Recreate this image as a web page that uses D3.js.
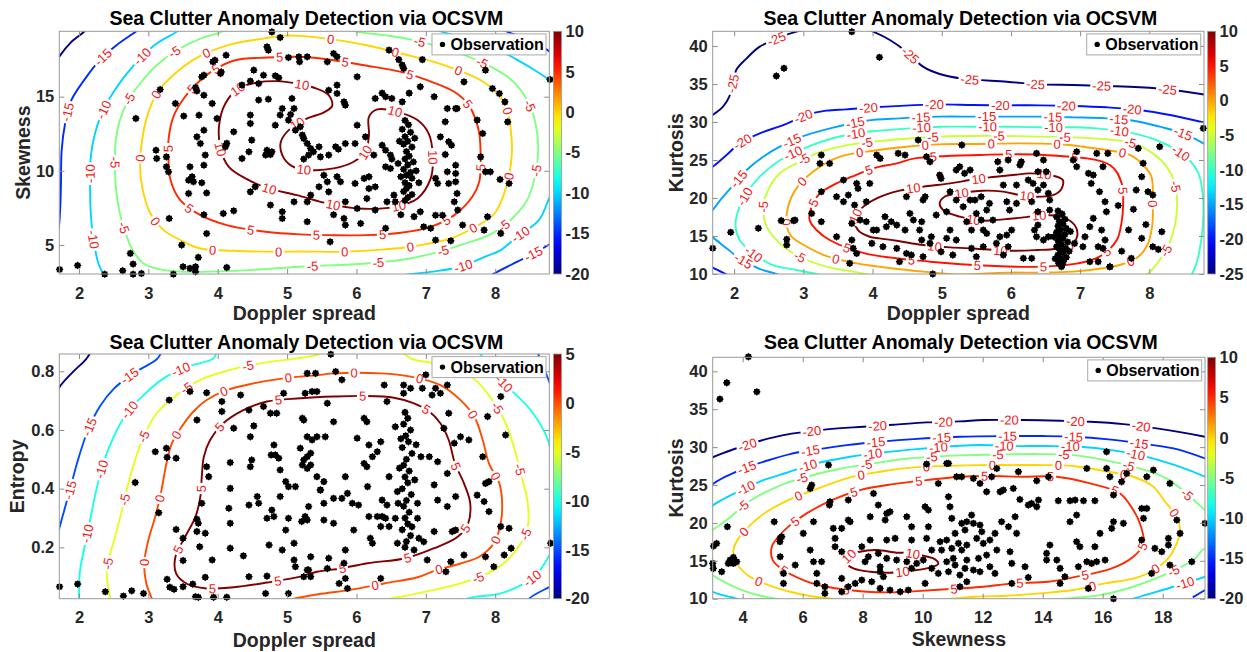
<!DOCTYPE html>
<html><head><meta charset="utf-8">
<script src="https://cdn.jsdelivr.net/npm/d3@7"></script>
<style>body{margin:0;background:#fff}svg{display:block}</style>
</head><body>
<script>
// ---------------- DATA ----------------
const titleText = 'Sea Clutter Anomaly Detection via OCSVM';
const dopplerTicks = [2,3,4,5,6,7,8];
const skewnessYTicks = [5,10,15];
const kurtosisTicks = [10,15,20,25,30,35,40];
const entropyTicks = [0.2,0.4,0.6,0.8];
const skewnessXTicks = [4,6,8,10,12,14,16,18];
const cbTicks1 = [10,5,0,-5,-10,-15,-20];
const cbTicks2 = [10,5,0,-5,-10,-15,-20,-25];
const cbTicks3 = [5,0,-5,-10,-15,-20];
const cbTicks4 = [10,5,0,-5,-10,-15,-20];

// Panel 1: Doppler spread vs Skewness
const p1Points = [[1.72,3.35],[1.98,3.62],[2.37,3.03],[2.63,3.26],[2.78,3.71],[2.74,4.43],[2.78,3.03],[2.90,3.08],[3.36,3.03],[3.50,3.53],[3.60,3.42],[3.68,3.53],[3.68,3.19],[3.72,4.16],[3.48,4.99],[3.84,5.77],[3.30,6.79],[4.13,3.48],[2.82,13.53],[3.11,11.39],[3.12,10.83],[3.26,10.94],[3.26,10.27],[3.29,9.93],[3.17,15.48],[3.39,14.54],[3.51,13.69],[3.73,13.75],[3.70,12.29],[3.80,12.74],[3.75,11.84],[3.60,10.27],[3.63,9.60],[3.58,9.37],[3.65,9.26],[3.58,8.47],[3.80,10.38],[3.82,11.06],[3.84,8.51],[3.77,9.19],[3.68,15.62],[3.70,15.39],[3.80,15.10],[3.77,16.34],[3.80,16.45],[3.92,14.54],[3.93,17.35],[3.96,17.46],[4.05,16.67],[4.12,17.80],[4.71,18.36],[4.73,18.14],[4.78,19.37],[4.90,18.99],[5.02,17.64],[5.18,17.35],[4.08,7.12],[4.23,7.30],
[4.04,16.56],[3.99,13.53],[4.23,12.63],[4.13,11.85],[4.11,11.62],[4.35,10.83],[4.49,12.07],[4.47,13.76],[4.47,13.19],[4.59,14.77],[4.73,14.83],[4.52,16.79],[4.66,16.45],[4.83,16.41],[4.88,16.27],[4.47,16.05],[4.59,15.89],[4.35,15.78],[4.93,14.20],[5.10,14.20],[5.07,14.88],[4.83,13.08],[5.19,12.97],[5.22,12.41],[5.24,12.18],[5.29,11.84],[5.34,11.51],[5.38,11.28],[5.46,11.62],[5.31,11.06],[5.24,10.79],[5.48,10.94],[5.60,11.06],[5.70,11.62],[5.74,11.46],[5.84,11.84],[5.98,11.84],[6.13,12.29],[6.01,13.08],[6.27,14.88],[6.37,15.24],[6.42,14.99],[6.51,14.88],[6.66,17.13],[6.68,16.90],[6.66,14.65],[6.76,15.24],[6.92,15.67],[7.12,15.0],[7.31,14.20],[7.45,14.20],[7.28,13.31],[7.21,12.29],[7.33,11.96],[7.37,11.73],[7.28,11.10],[7.43,10.38],[7.31,9.93],[7.14,9.49],[7.17,9.15],[7.33,9.15],[7.45,8.47],[7.41,7.91],[4.71,11.39],[4.69,11.06],[4.76,11.10],[4.78,11.28],[4.45,11.28],[4.54,8.92],[4.47,8.58],[4.76,7.69],[4.93,7.24],[5.10,7.91],[5.29,7.91],[5.34,8.36],[5.60,8.58],[5.46,8.92],[5.53,9.70],[5.58,9.26],[5.72,9.60],[5.77,9.26],[5.98,9.15],[6.11,9.49],[6.18,8.80],[6.27,8.92],[6.15,8.13],[6.18,9.60],[5.84,7.91],[6.01,7.46],[6.27,7.35],[6.44,7.91],[6.54,8.36],[6.56,7.91],[6.64,7.04],[6.83,6.91],[6.92,7.24],[7.07,6.12],[7.14,7.0],[7.24,7.0],[3.80,7.04],[4.93,6.79],[5.29,6.57],[5.67,7.04],[5.82,6.79],[5.84,6.34],[6.06,6.45],[6.42,6.12],[4.90,13.76],[5.05,13.80],[5.02,13.42],[5.12,12.74],[5.60,15.44],[5.72,15.22],[5.84,14.43],[5.72,15.78],[5.82,14.65],[5.58,17.35],[5.29,17.69],[5.17,17.69],[5.72,17.69],[6.01,16.34],[6.25,11.06],[6.37,11.73],[6.42,11.39],[6.49,11.06],[6.51,10.79],[6.49,10.16],[6.42,10.27],
[6.70,13.4],[6.75,13.1],[6.66,12.8],[6.78,12.6],[6.70,12.3],[6.74,12.0],[6.68,11.8],[6.80,11.6],[6.72,11.3],[6.76,11.0],[6.70,10.8],[6.82,10.6],[6.74,10.4],[6.68,10.1],[6.78,9.9],[6.72,9.7],[6.80,9.5],[6.70,9.2],[6.76,9.0],[6.72,8.8],[6.68,8.6],[6.80,8.4],[6.74,8.2],[6.70,8.0],[6.62,12.0],[6.86,10.0],[6.64,9.6],[6.84,12.2],[6.60,10.5],[6.90,9.2],
[5.67,17.91],[6.47,18.14],[6.61,17.50],[6.95,17.50],[7.86,16.79],[7.96,15.55],[8.06,15.21],[8.14,14.65],[8.18,13.30],[7.55,16.00],[7.43,14.20],[7.74,13.42],[7.82,12.52],[7.79,10.94],[7.86,9.93],[7.93,9.93],[8.07,9.42],[8.20,9.15],[7.43,9.82],[7.43,9.26],[7.46,7.35],[7.53,6.34],[7.89,6.90],[7.84,6.0],[8.08,5.78],[7.14,5.33],[7.36,5.28],[8.79,16.16],[6.97,6.22],[5.62,5.21]];

const p1Contours = [
 {level:-20, closed:false, pts:[[1.68,17.4],[1.72,17.73],[1.88,18.65],[2.08,19.41],[2.13,19.7]]},
 {level:-15, closed:false, pts:[[2.9,19.7],[2.82,19.39],[2.54,18.47],[2.30,17.46],[2.09,16.22],[1.89,14.76],[1.80,13.19],[1.75,11.39],[1.74,9.15],[1.73,7.57],[1.71,6.22],[1.69,5.8]]},
 {level:-15, closed:false, pts:[[7.9,2.8],[7.97,3.03],[8.32,3.87],[8.56,4.43],[8.8,5.1],[8.85,5.3]]},
 {level:-15, closed:false, pts:[[8.1,19.6],[8.18,19.37],[8.51,18.81],[8.8,18.0]]},
 {level:-10, closed:false, pts:[[3.45,19.6],[3.41,19.39],[3.12,18.58],[2.88,17.57],[2.69,16.56],[2.50,15.33],[2.33,13.87],[2.23,12.52],[2.17,10.94],[2.16,8.92],[2.17,7.12],[2.21,5.33],[2.28,3.75],[2.35,3.03],[2.38,2.8]]},
 {level:-10, closed:false, pts:[[7.1,19.6],[7.2,19.42],[7.6,18.9],[8.0,18.25],[8.35,17.4],[8.6,16.7],[8.82,16.0]]},
 {level:-10, closed:false, pts:[[8.85,8.6],[8.79,8.25],[8.63,6.67],[8.3,5.5],[8.08,4.65],[7.85,4.2],[7.50,3.53],[7.1,3.2],[6.78,3.03],[6.6,2.9]]},
 {level:-5, closed:false, pts:[[4.1,19.6],[4.06,19.39],[3.75,18.92],[3.41,18.13],[3.12,17.12],[2.88,15.89],[2.71,14.76],[2.59,13.42],[2.53,12.07],[2.52,10.49],[2.53,8.92],[2.59,7.12],[2.66,6.0],[2.76,4.76],[2.93,3.75],[3.17,3.35],[3.51,3.19],[4.25,3.26],[5.19,3.53],[6.13,3.75],[6.64,3.98],[7.10,4.43],[7.50,4.99],[7.96,5.78],[8.27,6.90],[8.46,8.02],[8.56,9.37],[8.62,11.39],[8.59,12.97],[8.51,14.31],[8.37,15.44],[8.18,16.34],[7.94,17.01],[7.56,17.80],[7.12,18.47],[6.64,18.99],[6.40,19.15],[6.01,19.37],[5.8,19.6]]},
 {level:0, closed:true, pts:[[4.66,18.92],[4.23,18.58],[3.77,17.80],[3.41,16.67],[3.12,15.21],[2.98,13.64],[2.91,12.07],[2.88,10.49],[2.91,8.92],[3.03,7.12],[3.22,6.0],[3.46,5.33],[3.75,4.76],[4.23,4.61],[4.88,4.54],[5.19,4.56],[5.82,4.54],[6.40,4.70],[6.78,4.88],[7.36,5.44],[7.67,6.11],[7.99,7.12],[8.16,8.92],[8.24,11.17],[8.22,12.97],[8.16,14.31],[8.01,15.33],[7.79,16.11],[7.46,16.79],[7.12,17.35],[6.64,17.91],[6.15,18.47],[5.67,18.85],[5.19,19.1],[4.95,19.12]]},
 {level:5, closed:true, pts:[[4.25,17.46],[3.94,16.79],[3.75,16.11],[3.51,14.88],[3.36,13.64],[3.29,12.07],[3.29,10.72],[3.32,9.37],[3.46,8.02],[3.75,7.01],[4.13,6.34],[4.69,5.89],[5.19,5.71],[5.62,5.66],[6.13,5.66],[6.64,5.82],[7.07,6.22],[7.41,7.01],[7.67,8.25],[7.77,9.26],[7.79,10.72],[7.77,12.52],[7.72,13.42],[7.62,14.43],[7.41,15.33],[7.02,16.11],[6.64,16.67],[6.11,17.12],[5.67,17.46],[5.19,17.69],[4.71,17.64]]},
 {level:10, closed:true, pts:[[5.65,14.38],[5.60,15.10],[5.38,15.62],[5.14,15.89],[4.85,16.05],[4.57,15.96],[4.30,15.56],[4.11,14.54],[4.02,13.08],[4.04,11.51],[4.16,10.27],[4.40,9.49],[4.71,8.85],[5.14,8.36],[5.58,7.80],[6.01,7.46],[6.54,7.57],[6.88,8.14],[7.07,9.49],[7.10,11.06],[7.04,12.52],[6.88,13.42],[6.59,13.98],[6.30,14.14],[6.18,13.64],[6.18,12.41],[6.13,11.28],[5.96,10.61],[5.67,10.16],[5.34,10.05],[5.07,10.32],[4.93,11.06],[4.91,11.96],[5.05,12.86],[5.29,13.53],[5.53,13.94]]}
];

// Panel 2: Doppler spread vs Kurtosis
const p2Points = [[2.88,17.10],[3.26,25.65],[3.24,24.55],[3.38,24.55],[3.26,20.83],[3.12,17.97],[3.26,16.88],[3.58,22.36],[3.48,20.17],[3.58,19.51],[3.65,20.39],[3.77,21.92],[3.79,21.26],[3.74,19.07],[3.82,17.10],[3.70,16.66],[3.48,14.90],[3.70,14.47],[3.72,13.37],[3.77,12.71],[3.96,21.92],[3.91,16.88],[4.01,15.78],[4.06,15.78],[4.20,16.22],[3.99,14.03],[4.06,25.65],[4.11,25.21],[4.15,13.59],[4.18,17.54],[3.91,19.51],[4.37,25.87],[4.47,25.65],[4.66,27.62],[4.49,20.17],[4.27,16.88],[4.35,16.44],[4.47,15.78],[4.54,17.97],[4.59,17.10],[4.71,16.88],[4.73,19.73],[4.76,20.17],[4.68,15.78],[4.71,14.47],[4.35,13.37],[4.49,12.71],[4.56,12.50],[4.39,11.62],[4.73,12.28],[4.78,25.43],[4.83,24.77],[4.97,23.02],[4.99,22.58],[5.12,20.83],[5.21,19.73],[5.21,23.68],[5.29,26.97],[4.92,17.76],[5.07,18.19],[5.12,15.78],[5.07,14.69],[4.85,14.90],[4.83,14.03],[4.99,12.93],[5.16,12.50],[5.21,14.47],[5.26,24.12],[5.33,23.24],[5.41,23.68],[5.41,19.73],[5.48,19.73],[5.50,17.97],[5.57,17.10],[5.65,18.41],[5.31,18.85],[5.36,16.88],[5.43,15.78],[5.60,15.78],[5.65,15.34],[5.43,13.37],[5.50,12.28],[5.60,13.59],[5.69,19.29],[5.57,20.17],[5.81,24.77],[5.96,24.99],[5.89,21.70],[6.08,21.70],[5.84,23.68],[5.94,19.51],[5.98,18.41],[6.08,19.29],[6.13,24.34],[6.15,24.77],[5.74,17.10],[5.84,14.90],[5.79,14.03],[5.94,15.12],[5.96,13.59],[5.89,12.50],[6.18,12.06],[6.30,12.06],[6.01,15.78],[6.37,25.87],[6.47,24.99],[6.39,23.46],[6.51,23.46],[6.25,22.36],[6.32,21.92],[6.39,21.05],[6.47,21.70],[6.54,20.61],[6.56,19.73],[6.30,19.51],[6.39,18.19],[6.56,18.41],[6.39,16.44],[6.34,15.78],[6.37,14.90],[6.47,14.47],[6.54,14.90],[6.95,26.09],[6.95,24.12],[6.90,24.99],[7.24,25.87],[7.33,24.12],[7.40,25.87],[7.12,23.24],[7.19,23.02],[7.16,21.92],[7.28,20.83],[7.36,19.51],[7.38,18.19],[7.19,17.32],[7.14,16.22],[7.31,15.78],[7.36,14.47],[7.07,14.90],[7.04,13.59],[7.26,13.59],[7.33,13.37],[7.43,10.96],[6.92,14.03],[6.73,10.96],[7.14,11.62],[7.26,11.62],
[6.68,18.3],[6.74,17.9],[6.66,17.5],[6.78,17.2],[6.70,16.9],[6.75,16.6],[6.68,16.3],[6.80,16.0],[6.72,15.8],[6.66,15.5],[6.78,15.2],[6.71,15.0],[6.75,14.7],[6.68,14.4],[6.82,14.2],[6.73,13.9],[6.66,13.6],[6.79,13.4],[6.71,13.1],[6.75,12.8],[6.68,12.5],[6.80,12.2],[6.72,12.0],[6.76,11.7],[6.69,11.4],[6.84,13.0],[6.62,14.9],[6.86,15.6],[6.64,12.0],[6.74,11.2],
[3.70,41.88],[4.10,38.51],[2.61,36.05],[2.72,37.06],[2.35,16.01],[1.95,15.48],[1.69,13.38],[2.76,14.56],[2.76,13.82],[2.68,17.02],[2.86,17.02],[8.15,26.75],[7.84,26.53],[7.91,24.56],[7.89,22.80],[7.98,20.83],[8.05,20.39],[7.81,21.05],[7.77,18.51],[8.18,15.57],[7.89,14.69],[8.05,13.59],[8.13,13.24],[7.74,12.06],[7.43,10.96],[8.78,29.16],[7.55,19.0],[7.6,13.0],[7.7,15.8],[7.95,16.5],[3.67,11.40],[4.87,10.0]];

const p2Contours = [
 {level:-25, closed:false, pts:[[1.60,30.4],[1.69,30.92],[1.84,32.02],[1.93,33.33],[1.98,35.08],[2.03,36.84],[2.18,38.37],[2.37,39.91],[2.66,41.14],[2.9,41.88],[3.14,42.3]]},
 {level:-25, closed:false, pts:[[3.85,42.4],[4.01,41.88],[4.25,40.79],[4.49,39.25],[4.73,37.28],[4.97,36.31],[5.30,35.70],[5.94,35.30],[6.42,34.95],[6.90,34.87],[7.38,34.73],[7.86,34.56],[8.34,34.21],[8.8,33.6]]},
 {level:-20, closed:false, pts:[[1.60,23.7],[1.69,24.12],[1.89,25.66],[2.08,27.19],[2.37,28.51],[2.71,29.60],[3.05,30.92],[3.33,31.49],[3.62,31.66],[4.01,31.93],[4.54,32.19],[4.97,32.32],[5.45,32.23],[5.94,32.19],[6.42,32.19],[6.90,32.11],[7.38,31.93],[7.86,31.58],[8.30,30.92],[8.8,29.9]]},
 {level:-20, closed:false, pts:[[1.60,11.3],[1.69,10.83],[1.91,9.87],[1.95,9.7]]},
 {level:-15, closed:false, pts:[[1.60,17.5],[1.69,18.42],[1.82,19.96],[1.99,21.71],[2.18,23.68],[2.42,25.43],[2.66,26.75],[2.95,27.98],[3.43,29.25],[3.91,30.17],[4.39,30.48],[4.97,30.70],[5.45,30.70],[5.94,30.70],[6.42,30.70],[6.90,30.61],[7.38,30.48],[7.77,30.17],[8.15,29.38],[8.49,28.51],[8.8,27.1]]},
 {level:-15, closed:false, pts:[[1.60,15.3],[1.69,14.82],[1.89,13.38],[2.08,12.06],[2.35,10.75],[2.61,10.0],[2.7,9.7]]},
 {level:-10, closed:false, pts:[[3.3,9.6],[3.24,9.87],[2.90,10.52],[2.56,11.18],[2.27,12.72],[2.08,14.47],[2.02,16.23],[2.06,18.42],[2.18,20.61],[2.37,22.80],[2.66,24.96],[2.95,26.31],[3.34,27.63],[3.77,28.51],[4.11,28.86],[4.54,29.16],[4.99,29.38],[5.45,29.38],[5.94,29.38],[6.42,29.30],[6.90,29.30],[7.38,29.03],[7.77,28.51],[8.10,27.63],[8.39,26.31],[8.58,25.0],[8.71,23.25],[8.77,20.61],[8.78,17.54],[8.75,14.47],[8.68,11.4],[8.61,9.87],[8.58,9.5]]},
 {level:-5, closed:false, pts:[[4.0,9.6],[3.96,9.87],[3.72,10.31],[3.33,10.96],[2.90,12.50],[2.66,14.03],[2.47,16.23],[2.42,18.86],[2.49,21.05],[2.66,23.25],[2.90,24.56],[3.19,25.87],[3.53,26.75],[4.01,27.41],[4.49,27.80],[4.95,28.07],[5.45,28.16],[5.94,28.16],[6.42,28.07],[6.90,27.98],[7.38,27.72],[7.77,27.19],[8.05,25.87],[8.25,24.12],[8.37,21.93],[8.40,19.73],[8.39,17.54],[8.34,15.35],[8.27,13.59],[8.15,11.84],[8.01,10.31],[7.94,9.87],[7.9,9.6]]},
 {level:0, closed:true, pts:[[2.76,16.23],[2.78,18.86],[2.90,21.27],[3.14,23.46],[3.53,25.44],[4.01,26.22],[4.49,26.75],[4.97,27.06],[5.45,27.10],[6.10,27.19],[6.66,27.10],[7.04,26.75],[7.38,26.31],[7.72,25.66],[7.91,24.34],[8.03,22.80],[8.05,19.73],[8.04,16.23],[7.96,13.59],[7.81,12.06],[7.57,11.18],[7.33,10.75],[6.90,10.31],[6.42,10.18],[5.94,10.18],[5.21,9.95],[4.73,10.31],[4.27,10.75],[3.77,11.40],[3.36,12.28],[3.05,13.59],[2.83,14.91]]},
 {level:5, closed:true, pts:[[4.61,25.22],[5.55,25.66],[6.49,25.66],[7.43,24.34],[7.60,21.93],[7.62,18.86],[7.60,16.89],[7.53,14.47],[7.28,12.28],[6.97,11.40],[6.42,10.96],[5.77,11.05],[4.83,11.62],[3.89,12.72],[3.38,14.47],[3.19,15.79],[3.09,17.1],[3.12,18.86],[3.24,20.61],[3.48,21.93],[3.70,22.80],[4.01,23.9],[4.35,24.56]]},
 {level:10, closed:true, pts:[[4.10,14.69],[3.96,14.90],[3.79,15.78],[3.74,17.32],[3.84,18.63],[4.06,19.95],[4.39,20.96],[4.73,21.48],[5.12,21.92],[5.41,22.36],[5.69,22.71],[6.03,23.02],[6.27,23.24],[6.56,23.02],[6.75,22.36],[6.72,21.05],[6.61,20.39],[6.37,20.17],[6.13,20.39],[5.89,20.83],[5.60,20.96],[5.26,20.61],[5.04,20.17],[4.97,19.29],[5.02,18.41],[5.26,17.54],[5.60,17.01],[5.89,17.19],[6.18,17.45],[6.47,17.76],[6.75,17.45],[6.92,16.44],[6.96,15.12],[6.87,13.81],[6.66,13.33],[6.37,13.15],[5.98,13.06],[5.50,13.33],[5.12,13.50],[4.73,13.81],[4.35,14.38]]}
];

// Panel 3: Doppler spread vs Entropy
const p3Points = [[1.72,0.066],[1.98,0.075],[2.38,0.049],[2.64,0.034],[2.76,0.052],[2.93,0.043],[2.81,0.421],[3.10,0.526],[3.26,0.538],[3.27,0.507],[3.40,0.504],[3.30,0.702],[3.15,0.318],[3.27,0.091],[3.31,0.064],[3.37,0.057],[3.50,0.066],[3.40,0.261],[3.50,0.231],[3.50,0.155],[3.60,0.731],[3.84,0.727],[3.70,0.634],[3.84,0.475],[3.87,0.441],[3.77,0.350],[3.70,0.296],[3.72,0.282],[3.70,0.254],[3.82,0.248],[3.74,0.202],[3.68,0.032],[3.72,0.030],[3.82,0.098],[3.64,0.075],[3.94,0.030],[4.13,0.030],[4.06,0.697],[4.06,0.663],[4.23,0.606],[4.18,0.489],[4.18,0.401],[4.16,0.333],[4.18,0.282],[4.18,0.197],[3.92,0.157],[4.37,0.171],[4.33,0.719],[4.45,0.668],[4.52,0.614],[4.47,0.577],[4.49,0.498],[4.47,0.475],[4.57,0.373],[4.59,0.350],[4.45,0.344],[4.45,0.100],[4.69,0.043],[4.71,0.102],[4.74,0.208],[4.78,0.327],[4.90,0.373],[4.71,0.299],[4.81,0.305],[4.76,0.657],[4.85,0.657],[4.66,0.680],[4.81,0.549],[4.77,0.515],[4.83,0.515],[4.88,0.504],[4.90,0.464],[4.98,0.424],[5.02,0.407],[5.12,0.407],[4.98,0.259],[4.93,0.191],[5.10,0.157],[5.02,0.043],[5.02,0.299],[4.95,0.725],[5.10,0.214],[5.12,0.134],[5.24,0.100],[5.21,0.288],[5.24,0.498],[5.29,0.509],[5.34,0.521],[5.36,0.566],[5.29,0.577],[5.24,0.634],[5.26,0.725],[5.36,0.731],[5.43,0.731],[5.29,0.793],[5.31,0.339],[5.29,0.123],[5.48,0.395],
[5.63,0.858],[5.41,0.793],[5.70,0.799],[5.79,0.771],[5.58,0.691],[5.22,0.640],[5.67,0.628],[6.11,0.640],[6.15,0.628],[6.40,0.753],[6.68,0.753],[6.68,0.725],[6.78,0.742],[6.95,0.742],[7.00,0.788],[7.09,0.719],[6.44,0.697],[6.56,0.611],[6.35,0.560],[6.30,0.526],[6.18,0.549],[6.23,0.509],[6.01,0.572],[6.11,0.486],[6.15,0.475],[5.84,0.441],[5.87,0.384],[5.67,0.367],[5.53,0.424],[5.43,0.441],[5.34,0.481],[5.55,0.577],[5.43,0.577],[5.19,0.538],[5.22,0.481],[5.29,0.469],[5.48,0.396],[5.79,0.367],[5.94,0.350],[6.03,0.344],[6.18,0.305],[6.37,0.305],[6.42,0.299],[6.16,0.407],[6.47,0.441],[6.59,0.390],[6.44,0.344],[6.37,0.361],[6.93,0.509],[7.05,0.509],[7.17,0.492],[7.12,0.413],[7.17,0.361],[7.31,0.339],[7.43,0.373],[7.31,0.452],[7.41,0.555],[7.26,0.606],[7.33,0.657],[7.21,0.725],[7.14,0.742],[7.31,0.753],[7.50,0.577],[7.62,0.566],[7.82,0.509],[7.74,0.378],[7.84,0.356],[7.91,0.424],[7.86,0.418],[7.91,0.322],[8.08,0.271],[8.20,0.265],[8.23,0.197],[7.98,0.134],[7.86,0.168],[7.55,0.174],[7.29,0.117],[7.36,0.151],[7.43,0.259],[7.38,0.254],[7.12,0.254],[6.90,0.231],[6.97,0.219],[6.88,0.299],[6.88,0.350],[6.56,0.299],[6.47,0.271],[6.35,0.271],[6.30,0.305],[6.20,0.231],[6.23,0.214],[5.96,0.259],[5.84,0.191],[5.67,0.282],[5.53,0.293],[5.53,0.350],[5.26,0.305],[5.29,0.293],[5.34,0.168],[5.60,0.163],[5.58,0.128],[5.31,0.123],[5.34,0.100],[5.82,0.146],[5.84,0.094],[5.87,0.060],[5.75,0.077],[6.35,0.094],[6.59,0.214],[6.83,0.191],[7.02,0.157],[8.80,0.214],[8.13,0.174],[8.08,0.714],[8.15,0.583],[7.89,0.646],
[6.70,0.66],[6.74,0.64],[6.68,0.62],[6.78,0.60],[6.71,0.58],[6.75,0.56],[6.66,0.54],[6.80,0.52],[6.72,0.50],[6.68,0.48],[6.76,0.46],[6.70,0.44],[6.74,0.42],[6.66,0.40],[6.79,0.38],[6.72,0.36],[6.68,0.34],[6.76,0.32],[6.70,0.30],[6.74,0.28],[6.66,0.26],[6.78,0.24],[6.72,0.22],[6.70,0.20],[6.62,0.47],[6.84,0.43],[6.60,0.35],[6.64,0.57],[6.86,0.55],[6.80,0.27]];

const p3Contours = [
 {level:-20, closed:false, pts:[[1.68,0.72],[1.716,0.745],[1.90,0.795],[2.10,0.841],[2.18,0.87]]},
 {level:-15, closed:false, pts:[[3.2,0.87],[3.12,0.841],[2.78,0.793],[2.50,0.74],[2.30,0.680],[2.13,0.60],[1.97,0.486],[1.87,0.396],[1.78,0.32],[1.716,0.265],[1.69,0.24]]},
 {level:-15, closed:false, pts:[[8.45,0.0],[8.49,0.025],[8.79,0.066],[8.85,0.075]]},
 {level:-15, closed:false, pts:[[8.6,0.87],[8.72,0.80],[8.82,0.74]]},
 {level:-10, closed:false, pts:[[3.98,0.87],[3.94,0.844],[3.56,0.816],[3.22,0.776],[2.93,0.719],[2.69,0.657],[2.50,0.577],[2.35,0.486],[2.25,0.396],[2.17,0.305],[2.09,0.214],[2.01,0.111],[2.00,0.025],[2.0,0.0]]},
 {level:-10, closed:false, pts:[[7.75,0.87],[8.08,0.771],[8.51,0.668],[8.76,0.566],[8.82,0.47]]},
 {level:-10, closed:false, pts:[[7.5,0.0],[7.60,0.025],[8.08,0.043],[8.56,0.10],[8.82,0.19]]},
 {level:-5, closed:false, pts:[[5.55,0.87],[5.43,0.856],[5.14,0.844],[4.61,0.827],[4.18,0.805],[3.75,0.771],[3.41,0.719],[3.12,0.657],[2.93,0.577],[2.81,0.498],[2.71,0.418],[2.62,0.327],[2.52,0.236],[2.40,0.123],[2.45,0.025],[2.47,0.0]]},
 {level:-5, closed:false, pts:[[6.65,0.87],[6.78,0.844],[7.12,0.827],[7.50,0.805],[7.74,0.765],[7.96,0.702],[8.13,0.634],[8.27,0.543],[8.37,0.452],[8.47,0.350],[8.47,0.271],[8.37,0.214],[8.15,0.151],[7.89,0.111],[7.50,0.077],[7.12,0.055],[6.78,0.038],[6.49,0.025],[6.3,0.01]]},
 {level:0, closed:false, pts:[[3.08,0.0],[3.05,0.025],[2.97,0.077],[2.94,0.145],[3.00,0.225],[3.10,0.305],[3.19,0.396],[3.26,0.486],[3.34,0.555],[3.48,0.611],[3.65,0.663],[3.84,0.702],[4.13,0.736],[4.52,0.759],[4.95,0.776],[5.48,0.788],[5.67,0.793],[6.35,0.793],[6.78,0.782],[7.21,0.753],[7.50,0.702],[7.70,0.645],[7.82,0.566],[7.91,0.486],[8.06,0.418],[8.10,0.350],[8.08,0.282],[7.98,0.214],[7.77,0.168],[7.50,0.145],[7.12,0.120],[6.88,0.098],[6.40,0.077],[5.91,0.055],[5.45,0.040],[5.10,0.025],[4.9,0.012]]},
 {level:5, closed:true, pts:[[5.19,0.708],[5.67,0.714],[6.11,0.716],[6.54,0.710],[6.83,0.691],[7.05,0.663],[7.21,0.623],[7.33,0.566],[7.42,0.486],[7.55,0.418],[7.64,0.350],[7.61,0.282],[7.46,0.236],[7.12,0.197],[6.71,0.163],[6.16,0.146],[5.77,0.128],[5.43,0.117],[5.19,0.100],[4.71,0.080],[4.23,0.064],[3.84,0.060],[3.56,0.075],[3.40,0.111],[3.39,0.168],[3.53,0.236],[3.68,0.305],[3.75,0.373],[3.77,0.441],[3.80,0.509],[3.89,0.566],[4.08,0.623],[4.37,0.668],[4.71,0.697]]}
];

// Panel 4: Skewness vs Kurtosis
const p4Points = [[4.19,41.92],[3.24,36.34],[3.47,38.49],[4.47,37.30],[3.03,16.94],[3.13,17.29],[3.0,14.66],[3.02,14.0],[3.30,13.56],[3.52,14.66],[3.58,15.10],[3.69,15.45],[3.49,19.50],[3.69,14.66],[3.80,14.88],[5.05,20.15],[5.24,17.52],
[6.86,27.63],[6.30,24.99],[6.25,24.55],[6.91,22.79],[6.89,22.35],[5.30,18.18],[5.25,17.96],[6.02,18.62],[6.36,20.16],[7.02,19.28],[7.52,20.38],[7.58,20.16],[7.30,19.28],[8.36,23.89],[8.52,22.35],[8.91,21.47],[8.80,21.25],[8.75,20.38],[8.25,17.74],[8.80,17.74],[9.08,17.96],[9.63,19.50],[9.63,17.74],[10.13,17.96],[10.08,22.13],[10.19,21.69],[10.52,25.21],[10.86,27.85],[10.13,27.76],[11.13,26.09],[11.30,26.09],[11.69,25.87],[11.91,25.21],[12.13,24.11],[10.91,22.13],[10.97,20.60],[11.30,19.94],[11.47,20.16],[11.63,21.03],[11.69,19.94],[11.91,19.72],[11.97,18.84],[11.41,19.06],[11.08,18.62],[10.80,17.74],[10.58,17.52],[10.30,16.42],[10.63,16.42],[10.97,16.64],[11.19,17.30],[11.30,16.42],[11.47,17.08],[11.80,17.96],[12.02,17.30],[12.24,17.74],[12.41,18.62],[12.47,16.42],[12.13,15.76],[11.86,15.32],[11.47,15.10],[11.02,15.32],[10.80,14.88],[11.08,14.44],[11.41,14.0],[11.69,13.78],[11.91,13.56],[12.24,14.22],[12.41,13.34],[11.24,13.12],[10.86,13.56],[10.52,13.34],[10.30,14.0],[10.02,15.10],[9.80,14.66],[9.63,14.0],[9.47,14.88],[9.13,15.10],[8.80,15.32],[8.52,15.98],[7.97,16.86],[8.19,15.54],[8.08,14.88],[8.58,14.22],[8.58,13.56],[8.69,12.90],[8.30,12.24],[7.97,12.46],[7.75,12.02],[7.52,11.58],[7.30,12.68],[7.30,16.20],[7.08,17.96],[7.08,16.86],[6.25,16.42],[6.36,14.88],[6.63,14.88],[6.47,13.34],[5.75,14.44],[5.25,15.54],[5.36,13.34],[5.36,12.02],[6.74,10.70],[6.47,12.02],[6.74,11.58],[7.30,10.92],[8.58,11.36],[8.91,11.14],[9.25,10.92],[9.52,11.14],[10.08,12.02],[11.24,11.58],[11.47,12.24],[12.30,26.09],[10.86,23.45],[10.19,19.50],[9.47,20.82],[8.25,20.82],[7.52,23.01],
[12.47,27.19],[13.19,26.75],[13.80,25.56],[14.19,26.09],[12.58,24.11],[12.69,24.33],[13.02,24.55],[13.24,23.10],[13.52,22.35],[13.63,22.57],[13.80,22.13],[13.86,23.01],[13.08,20.82],[12.86,19.50],[12.63,20.16],[13.13,18.62],[12.91,16.20],[12.97,14.66],[12.97,12.02],[13.52,12.81],[13.41,14.22],[14.13,15.10],[14.13,15.98],[14.24,17.08],[14.47,15.10],[14.58,14.0],[14.74,12.90],[14.58,12.02],[14.52,22.93],[14.91,22.93],[15.08,23.01],[15.36,22.93],[15.74,22.93],[14.91,20.16],[15.13,21.03],[15.13,17.52],[15.24,16.86],[15.19,14.22],[15.47,14.88],[15.63,14.66],[15.80,14.88],[16.08,15.10],[15.52,11.36],[15.74,16.86],[15.91,18.62],[16.36,20.16],[16.30,19.28],[16.69,19.94],[16.36,23.67],[16.24,26.09],[16.13,27.19],[15.47,27.19],[16.80,26.53],[16.63,25.43],[16.13,29.39],[17.47,26.09],[18.24,25.21],[17.69,26.97],[17.30,21.91],[17.47,21.91],[17.36,20.60],[17.30,17.74],[17.74,16.64],[17.97,16.20],[18.19,17.96],[18.19,17.08],[18.47,20.38],[18.58,18.62],[18.24,14.44],[17.63,13.34],[18.97,14.88],[19.41,19.94],[16.36,10.0],[10.80,27.85]];

const p4Contours = [
 {level:-20, closed:false, pts:[[2.9,28.3],[3.0,28.64],[3.47,29.39],[4.47,30.71],[5.36,31.59],[6.80,32.34],[8.02,32.69],[9.02,32.95],[10.13,33.26],[11.24,33.39],[12.02,33.57],[13.36,33.57],[14.58,33.48],[15.58,33.35],[16.69,33.04],[17.80,32.47],[19.41,31.37],[19.6,31.2]]},
 {level:-15, closed:false, pts:[[2.9,24.6],[3.0,25.12],[3.91,26.97],[4.80,28.20],[5.58,29.08],[6.36,29.61],[7.47,30.27],[8.58,30.71],[9.69,31.06],[11.24,31.37],[12.80,31.46],[14.02,31.46],[15.02,31.37],[16.19,31.02],[17.24,30.49],[18.36,29.83],[19.41,28.51],[19.6,28.2]]},
 {level:-15, closed:false, pts:[[19.0,10.2],[19.13,10.48],[19.41,11.14],[19.6,11.5]]},
 {level:-10, closed:false, pts:[[2.9,21.7],[3.0,22.27],[3.91,24.24],[4.69,25.65],[5.47,26.62],[6.36,27.76],[7.58,28.73],[8.69,29.30],[9.80,29.74],[11.24,30.18],[11.91,30.27],[13.02,30.14],[14.08,30.14],[15.24,30.05],[16.30,29.61],[17.24,28.95],[18.41,27.63],[19.41,26.09],[19.6,25.7]]},
 {level:-10, closed:false, pts:[[2.9,11.4],[3.0,10.92],[3.80,10.0],[3.95,9.8]]},
 {level:-10, closed:false, pts:[[16.9,9.8],[17.02,10.0],[18.36,11.58],[19.41,12.90],[19.6,13.2]]},
 {level:-5, closed:false, pts:[[2.9,18.6],[3.0,19.06],[3.47,20.38],[4.25,22.93],[5.36,25.12],[6.13,26.09],[7.24,27.15],[8.36,27.85],[9.47,28.47],[11.24,28.91],[12.80,29.04],[13.91,29.08],[15.02,28.95],[16.08,28.29],[17.02,27.41],[18.13,25.87],[18.91,23.45],[19.41,21.69],[19.6,21.0]]},
 {level:-5, closed:false, pts:[[19.6,16.2],[19.41,16.64],[19.02,15.10],[17.91,12.90],[17.02,11.58],[15.91,10.48],[14.69,10.0],[14.4,9.9]]},
 {level:-5, closed:false, pts:[[2.9,13.6],[3.0,13.12],[3.91,11.23],[4.74,10.26],[5.24,9.91]]},
 {level:0, closed:true, pts:[[3.69,16.42],[3.80,14.66],[4.24,12.90],[4.86,11.80],[5.58,10.92],[6.24,10.35],[6.97,10.0],[8.5,9.6],[10.2,9.75],[11.75,10.26],[12.80,10.39],[13.91,10.70],[15.02,11.14],[16.08,12.02],[17.24,12.90],[18.13,15.10],[18.47,17.30],[18.58,19.06],[18.47,20.82],[18.08,22.79],[17.69,24.77],[17.02,26.09],[16.19,26.75],[15.02,27.50],[14.08,27.63],[13.02,27.63],[11.86,27.63],[9.69,27.32],[8.58,26.75],[7.58,26.00],[6.36,24.33],[5.52,23.01],[4.80,21.47],[4.25,19.71],[3.86,17.96]]},
 {level:5, closed:true, pts:[[5.19,18.18],[4.97,16.86],[5.00,15.10],[5.36,13.78],[6.02,12.46],[6.80,11.58],[8.13,10.92],[9.02,10.84],[9.80,11.0],[11.24,11.36],[12.02,11.58],[13.02,12.02],[14.19,12.24],[15.02,12.81],[16.30,14.0],[17.02,15.54],[17.36,17.30],[17.24,19.93],[17.02,21.69],[16.58,23.89],[15.58,25.21],[14.47,26.09],[13.30,26.09],[12.24,26.18],[11.24,26.09],[10.13,25.65],[9.02,25.12],[7.91,24.33],[6.97,23.01],[6.13,21.25],[5.58,19.71]]},
 {level:10, closed:true, pts:[[9.13,16.07],[8.47,16.42],[7.91,16.20],[7.52,15.54],[7.47,14.66],[7.69,14.0],[8.25,13.56],[8.91,13.43],[9.58,13.69],[10.13,14.0],[10.52,14.57],[10.41,15.19],[9.91,15.76],[9.47,16.07]]}
];

// ---------------- LAYOUT ----------------
const W = 1247, H = 652;
const FONT = "'Liberation Sans', Arial, Helvetica, sans-serif";
const panels = [
 {id:1, rect:[59.3,549.3,31.3,274], xd:[1.716,8.78], yd:[3.04,19.41], xt:dopplerTicks, yt:skewnessYTicks, xl:'Doppler spread', yl:'Skewness', cr:[-20,10], ct:cbTicks1, cont:p1Contours, pts:p1Points, cb:[553.5,561.5], titleY:25, xlY:320, ylX:30},
 {id:2, rect:[712.7,1204,31.3,274], xd:[1.69,8.79], yd:[10,41.93], xt:dopplerTicks, yt:kurtosisTicks, xl:'Doppler spread', yl:'Kurtosis', cr:[-25,10], ct:cbTicks2, cont:p2Contours, pts:p2Points, cb:[1207.7,1215.5], titleY:25, xlY:320, ylX:683},
 {id:3, rect:[59.3,549.3,354,598.7], xd:[1.716,8.78], yd:[0.025,0.859], xt:dopplerTicks, yt:entropyTicks, xl:'Doppler spread', yl:'Entropy', cr:[-20,5], ct:cbTicks3, cont:p3Contours, pts:p3Points, cb:[553.5,561.5], titleY:348.5, xlY:646.5, ylX:23.5},
 {id:4, rect:[712.7,1205,357.3,598.7], xd:[3.0,19.41], yd:[10,41.85], xt:skewnessXTicks, yt:kurtosisTicks, xl:'Skewness', yl:'Kurtosis', cr:[-20,10], ct:cbTicks4, cont:p4Contours, pts:p4Points, cb:[1207.7,1215.5], titleY:349, xlY:646, ylX:683}
];

function jet(t){
  t = Math.max(0, Math.min(1, t));
  const c = v => Math.round(255 * Math.max(0, Math.min(1, v)));
  return `rgb(${c(1.5-Math.abs(4*t-3))},${c(1.5-Math.abs(4*t-2))},${c(1.5-Math.abs(4*t-1))})`;
}
function markerPath(r1, r2, n){
  let s = '';
  for (let i = 0; i < 2*n; i++) {
    const r = i % 2 ? r2 : r1, a = i * Math.PI / n;
    s += (i ? 'L' : 'M') + (r*Math.cos(a)).toFixed(2) + ',' + (r*Math.sin(a)).toFixed(2);
  }
  return s + 'Z';
}
const MARK = markerPath(3.9, 3.0, 8);
const fmt = d => String(d);

const svg = d3.select('body').append('svg').attr('width', W).attr('height', H)
  .style('font-family', FONT);
const defs = svg.append('defs');

function drawPanel(cfg){
  const [X0, X1, Y0, Y1] = cfg.rect;
  const x = d3.scaleLinear().domain(cfg.xd).range([X0, X1]);
  const y = d3.scaleLinear().domain(cfg.yd).range([Y1, Y0]);
  const g = svg.append('g');
  defs.append('clipPath').attr('id', 'clip' + cfg.id).append('rect')
    .attr('x', X0).attr('y', Y0).attr('width', X1 - X0).attr('height', Y1 - Y0);
  const mask = defs.append('mask').attr('id', 'mask' + cfg.id).attr('maskUnits', 'userSpaceOnUse')
    .attr('x', 0).attr('y', 0).attr('width', W).attr('height', H);
  mask.append('rect').attr('width', W).attr('height', H).attr('fill', 'white');
  const cg = g.append('g').attr('clip-path', `url(#clip${cfg.id})`);
  const lines = cg.append('g').attr('mask', `url(#mask${cfg.id})`);
  const labG = cg.append('g');
  const color = l => jet((l - cfg.cr[0]) / (cfg.cr[1] - cfg.cr[0]));
  const m = 7, spacing = 66;
  cfg.cont.forEach(c => {
    const line = d3.line().x(d => x(d[0])).y(d => y(d[1]))
      .curve(c.closed ? d3.curveCatmullRomClosed.alpha(0.5) : d3.curveCatmullRom.alpha(0.5));
    const p = lines.append('path').attr('d', line(c.pts)).attr('fill', 'none')
      .attr('stroke', color(c.level)).attr('stroke-width', 1.9);
    const node = p.node(), L = node.getTotalLength();
    let vis = 0, next = 30;
    for (let s = 0; s <= L; s += 1) {
      const q = node.getPointAtLength(s);
      if (!(q.x > X0 + m && q.x < X1 - m && q.y > Y0 + m && q.y < Y1 - m)) continue;
      vis += 1;
      if (vis >= next) {
        next += spacing;
        const a = node.getPointAtLength(Math.max(0, s - 4)), b = node.getPointAtLength(Math.min(L, s + 4));
        let ang = Math.atan2(b.y - a.y, b.x - a.x) * 180 / Math.PI;
        if (ang > 90) ang -= 180; if (ang < -90) ang += 180;
        const tr = `translate(${q.x.toFixed(2)},${q.y.toFixed(2)}) rotate(${ang.toFixed(1)})`;
        const t = labG.append('text').attr('transform', tr).attr('text-anchor', 'middle')
          .attr('dy', '0.36em').attr('font-size', 13).attr('fill', '#f01818').text(c.level);
        const w = t.node().getComputedTextLength();
        mask.append('rect').attr('transform', tr).attr('x', -w/2 - 2).attr('y', -6.5)
          .attr('width', w + 4).attr('height', 13).attr('fill', 'black');
      }
    }
  });
  // observations
  g.append('g').selectAll('path').data(cfg.pts).join('path')
    .attr('d', MARK).attr('fill', '#000')
    .attr('transform', d => `translate(${x(d[0]).toFixed(2)},${y(d[1]).toFixed(2)})`);
  // axes
  const tickCol = '#8c8c8c', txtCol = '#262626';
  const styleAxis = (sel) => {
    sel.select('.domain').remove();
    sel.selectAll('.tick line').attr('stroke', tickCol);
    sel.selectAll('.tick text').attr('fill', txtCol).attr('font-size', 16.5).attr('font-weight', 'bold').attr('font-family', FONT);
  };
  g.append('g').attr('transform', `translate(0,${Y1})`)
    .call(d3.axisBottom(x).tickValues(cfg.xt).tickFormat(fmt).tickSize(-5).tickSizeOuter(0).tickPadding(13)).call(styleAxis);
  g.append('g').attr('transform', `translate(0,${Y0})`)
    .call(d3.axisTop(x).tickValues(cfg.xt).tickSize(-5).tickSizeOuter(0).tickFormat(() => '')).call(styleAxis);
  g.append('g').attr('transform', `translate(${X0},0)`)
    .call(d3.axisLeft(y).tickValues(cfg.yt).tickFormat(fmt).tickSize(-5).tickSizeOuter(0).tickPadding(5)).call(styleAxis);
  g.append('g').attr('transform', `translate(${X1},0)`)
    .call(d3.axisRight(y).tickValues(cfg.yt).tickSize(-5).tickSizeOuter(0).tickFormat(() => '')).call(styleAxis);
  g.append('rect').attr('x', X0).attr('y', Y0).attr('width', X1 - X0).attr('height', Y1 - Y0)
    .attr('fill', 'none').attr('stroke', '#9a9a9a').attr('stroke-width', 1);
  // legend
  const lw = 114, lh = 21, lx = X1 - 3.3 - lw, ly = Y0 + 2.6;
  const lg = g.append('g');
  lg.append('rect').attr('x', lx).attr('y', ly).attr('width', lw).attr('height', lh)
    .attr('fill', '#fff').attr('stroke', '#a8a8a8').attr('stroke-width', 1);
  lg.append('circle').attr('cx', lx + 10.5).attr('cy', ly + lh/2).attr('r', 2.7).attr('fill', '#000');
  lg.append('text').attr('x', lx + 18.5).attr('y', ly + lh/2).attr('dy', '0.36em')
    .attr('font-size', 16).attr('font-weight', 'bold').attr('fill', '#000').text('Observation');
  // colorbar
  const gid = 'grad' + cfg.id;
  const grad = defs.append('linearGradient').attr('id', gid).attr('x1', 0).attr('y1', 1).attr('x2', 0).attr('y2', 0);
  d3.range(0, 1.0001, 0.05).forEach(t => grad.append('stop').attr('offset', t).attr('stop-color', jet(t)));
  g.append('rect').attr('x', cfg.cb[0]).attr('y', Y0).attr('width', cfg.cb[1] - cfg.cb[0]).attr('height', Y1 - Y0)
    .attr('fill', `url(#${gid})`).attr('stroke', '#9a9a9a').attr('stroke-width', 0.8);
  const cs = d3.scaleLinear().domain(cfg.cr).range([Y1, Y0]);
  g.append('g').attr('transform', `translate(${cfg.cb[1]},0)`)
    .call(d3.axisRight(cs).tickValues(cfg.ct).tickFormat(fmt).tickSize(0).tickPadding(4)).call(styleAxis);
  // title and labels
  g.append('text').attr('x', (X0 + X1)/2 + 2).attr('y', cfg.titleY).attr('text-anchor', 'middle')
    .attr('font-size', 19.5).attr('font-weight', 'bold').attr('fill', '#000').text(titleText);
  g.append('text').attr('x', (X0 + X1)/2).attr('y', cfg.xlY).attr('text-anchor', 'middle')
    .attr('font-size', 19.5).attr('font-weight', 'bold').attr('fill', txtCol).text(cfg.xl);
  g.append('text').attr('transform', `translate(${cfg.ylX},${(Y0 + Y1)/2}) rotate(-90)`).attr('text-anchor', 'middle')
    .attr('font-size', 19.5).attr('font-weight', 'bold').attr('fill', txtCol).text(cfg.yl);
}
panels.forEach(drawPanel);
</script>
</body></html>
